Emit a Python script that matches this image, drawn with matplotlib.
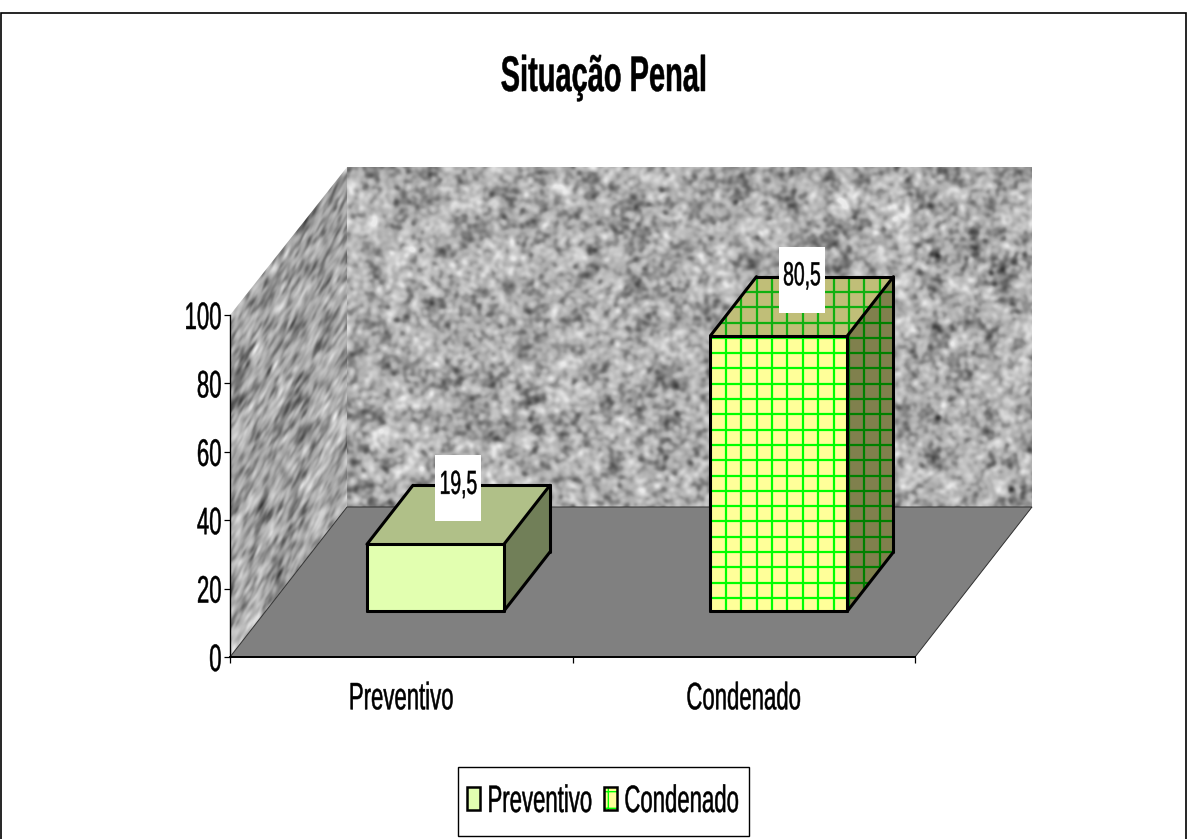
import numpy as np
import matplotlib
matplotlib.use('Agg')
import matplotlib.pyplot as plt
from matplotlib.backends.backend_agg import RendererAgg
from matplotlib.collections import LineCollection
from matplotlib.legend_handler import HandlerTuple
from matplotlib.patches import Patch, Polygon, Rectangle
from matplotlib.textpath import TextPath
from matplotlib.transforms import Affine2D

# Given data to plot
categories = ['Preventivo', 'Condenado']
values = [19.5, 80.5]
value_labels = ['19,5', '80,5']
y_ticks = [0, 20, 40, 60, 80, 100]

plt.rcParams['font.family'] = ['Liberation Sans', 'DejaVu Sans']

# the original text is horizontally squeezed and no narrow font is installed,
# so the agg renderer measures and draws every text at this width
SQUEEZE = 0.58
_measure = RendererAgg.get_text_width_height_descent


def narrow_measure(self, s, prop, ismath):
    w, h, d = _measure(self, s, prop, ismath)
    return w * SQUEEZE, h, d


def narrow_draw_text(self, gc, x, y, s, prop, angle, ismath=False, mtext=None):
    path = TextPath((0, 0), s, prop=prop)
    scale = self.dpi / 72
    tr = Affine2D().scale(scale * SQUEEZE, scale).rotate_deg(angle).translate(x, self.height - y)
    gc.set_linewidth(0.35)
    self.draw_path(gc, path, tr, rgbFace=gc.get_rgb())


RendererAgg.get_text_width_height_descent = narrow_measure
RendererAgg.draw_text = narrow_draw_text

W, H = 1187, 839
# oblique depth of the fake 3d box, in data units
DX = 117 / 342.5
DY = 150 / 3.42
WALL_TOP = 99.4
BAR_W = 0.4
BAR_D0, BAR_D1 = 0.307, 0.70
BAR_X = [0.295, 1.298]
GRID_X = 15.4 / 342.5
GRID_Y = 15.3 / 3.42


def proj(x, y, d):
    return x + d * DX, y + d * DY


def wall_texture(rows, cols, seed, mean):
    # only a decoration for the walls, the chart values are above
    rng = np.random.RandomState(seed)
    fy = np.fft.fftfreq(rows)[:, None]
    fx = np.fft.rfftfreq(cols)[None, :]
    img = np.zeros((rows, cols))
    for sigma, amount in [(2.2, 1.0), (6.0, 0.7)]:
        kernel = np.exp(-2 * (np.pi * sigma) ** 2 * (fx ** 2 + fy ** 2))
        n = np.fft.irfft2(np.fft.rfft2(rng.normal(size=(rows, cols))) * kernel, s=(rows, cols))
        img += amount * n / n.std()
    img = img / img.std()
    img = np.where(img < 0, img * 1.2, img * 0.8)
    return np.clip(mean + 25 * img, 50, 235)


fig = plt.figure(figsize=(W / 100, H / 100), dpi=100)
ax = fig.add_axes([230 / W, 1 - 657 / H, 685 / W, 342 / H])

# outer frame
fig.add_artist(Rectangle((0.5 / W, -0.05), (W - 1.5) / W, 1.05 - 13 / H, fill=False,
                         edgecolor='black', linewidth=1.2, transform=fig.transFigure))

# back wall and side wall
back = ax.imshow(wall_texture(340, 686, 3, 172), cmap='gray', vmin=0, vmax=255, aspect='auto',
                 extent=[DX, 2 + DX, DY, WALL_TOP + DY], interpolation='bilinear', zorder=1)
back.set_clip_on(False)
side = ax.imshow(wall_texture(342, 117, 7, 165), cmap='gray', vmin=0, vmax=255, aspect='auto',
                 extent=[0, 1, 0, 100], interpolation='bilinear', zorder=1,
                 transform=Affine2D(np.array([[DX, 0, 0], [DY, 1, 0], [0, 0, 1.0]])) + ax.transData)
side.set_clip_path(Polygon([proj(0, 0, 0), proj(0, 0, 1), proj(0, WALL_TOP, 1), proj(0, 100, 0)],
                           transform=ax.transData))
side.set_clip_box(fig.bbox)
ax.set_xlim(0, 2)
ax.set_ylim(0, 100)

# floor
ax.add_patch(Polygon([proj(0, 0, 0), proj(2, 0, 0), proj(2, 0, 1), proj(0, 0, 1)], closed=True,
                     facecolor='#808080', edgecolor='#303030', linewidth=0.7, zorder=2, clip_on=False))

styles = [
    {'front': '#E2FFB0', 'top': '#B0C088', 'side': '#717F58', 'grid': None},
    {'front': '#FFFF99', 'top': '#C0BE78', 'side': '#80804D', 'grid': ('#00FF00', '#10B010', '#008000')},
]

for i, val in enumerate(values):
    x0, x1 = BAR_X[i], BAR_X[i] + BAR_W
    st = styles[i]
    front = [proj(x0, 0, BAR_D0), proj(x1, 0, BAR_D0), proj(x1, val, BAR_D0), proj(x0, val, BAR_D0)]
    top = [proj(x0, val, BAR_D0), proj(x1, val, BAR_D0), proj(x1, val, BAR_D1), proj(x0, val, BAR_D1)]
    right = [proj(x1, 0, BAR_D0), proj(x1, 0, BAR_D1), proj(x1, val, BAR_D1), proj(x1, val, BAR_D0)]
    faces = [(front, st['front']), (top, st['top']), (right, st['side'])]
    for k, (pts, c) in enumerate(faces):
        ax.add_patch(Polygon(pts, closed=True, facecolor=c, edgecolor='none', zorder=3, clip_on=False))
        if st['grid']:
            # the pattern of the original stays upright on all three faces
            fx0, fy0 = proj(x0, 0, BAR_D0)
            fx1, fy1 = proj(x1, val, BAR_D1)
            xs = np.arange(fx0 + GRID_X, fx1, GRID_X)
            ys = np.arange(fy0 + GRID_Y * 0.85, fy1, GRID_Y)
            lines = LineCollection([[(x, fy0), (x, fy1)] for x in xs] + [[(fx0, y), (fx1, y)] for y in ys],
                                   colors=st['grid'][k], linewidths=1.6, zorder=3)
            ax.add_collection(lines)
            lines.set_clip_path(Polygon(pts, transform=ax.transData))
            lines.set_clip_box(fig.bbox)
    # black outline of the block
    outline = [[proj(x0, 0, BAR_D0), proj(x1, 0, BAR_D0)],
               [proj(x1, 0, BAR_D0), proj(x1, val, BAR_D0)],
               [proj(x1, val, BAR_D0), proj(x0, val, BAR_D0)],
               [proj(x0, val, BAR_D0), proj(x0, 0, BAR_D0)],
               [proj(x0, val, BAR_D0), proj(x0, val, BAR_D1)],
               [proj(x0, val, BAR_D1), proj(x1, val, BAR_D1)],
               [proj(x1, val, BAR_D1), proj(x1, val, BAR_D0)],
               [proj(x1, val, BAR_D1), proj(x1, 0, BAR_D1)],
               [proj(x1, 0, BAR_D1), proj(x1, 0, BAR_D0)]]
    ax.add_collection(LineCollection(outline, colors='black', linewidths=2.2, zorder=4,
                                     capstyle='round', clip_on=False))
    # white box with the value
    cx, cy = proj((x0 + x1) / 2, val, (BAR_D0 + BAR_D1) / 2)
    box_w, box_h = 46 / 342.5, 66 / 3.42
    box_y = cy + 7.7
    ax.add_patch(Rectangle((cx - box_w / 2, box_y - box_h / 2), box_w, box_h, facecolor='white',
                           edgecolor='none', zorder=5, clip_on=False))
    ax.text(cx, box_y + 0.9, value_labels[i], ha='center', va='center', fontsize=24, zorder=6,
            clip_on=False)

# axes
for s in ['top', 'right']:
    ax.spines[s].set_visible(False)
for s in ['left', 'bottom']:
    ax.spines[s].set_zorder(7)
ax.spines['left'].set_linewidth(1.0)
ax.spines['bottom'].set_linewidth(1.4)
ax.set_yticks(y_ticks)
ax.set_yticklabels([str(t) for t in y_ticks], fontsize=27.5)
ax.tick_params(axis='y', length=4.5, width=0.9, pad=1.6)
ax.set_xticks([0, 1, 2])
ax.set_xticklabels([])
ax.tick_params(axis='x', length=4.5, width=0.9)
ax.set_xticks([0.5, 1.5], minor=True)
ax.set_xticklabels(categories, minor=True, fontsize=27.5)
ax.tick_params(axis='x', which='minor', length=0, pad=17.5)

fig.text(604 / W, 1 - 78 / H, 'Situação Penal', ha='center', va='center', fontsize=36, fontweight='bold')

# legend, its box is drawn apart because it is wider on top than on the sides
fig.add_artist(Rectangle((457.5 / W, 1 - 836 / H), 291 / W, 69 / H, facecolor='white',
                         edgecolor='black', linewidth=1.0, transform=fig.transFigure))
h1 = Patch(facecolor=styles[0]['front'], edgecolor='black', linewidth=1.8)
h2a = Patch(facecolor=styles[1]['front'], edgecolor='#00FF00', hatch='+', linewidth=0)
h2b = Patch(facecolor='none', edgecolor='black', linewidth=1.8)
leg = fig.legend([h1, (h2a, h2b)], categories, ncol=2, loc='center',
                 bbox_to_anchor=(603 / W, 1 - 802 / H), bbox_transform=fig.transFigure,
                 fontsize=27.5, frameon=False,
                 handlelength=0.34, handleheight=0.55, handletextpad=0.2, columnspacing=0.3,
                 borderpad=0.2, handler_map={tuple: HandlerTuple(ndivide=1, pad=0)})

plt.savefig('out.png', dpi=100)
